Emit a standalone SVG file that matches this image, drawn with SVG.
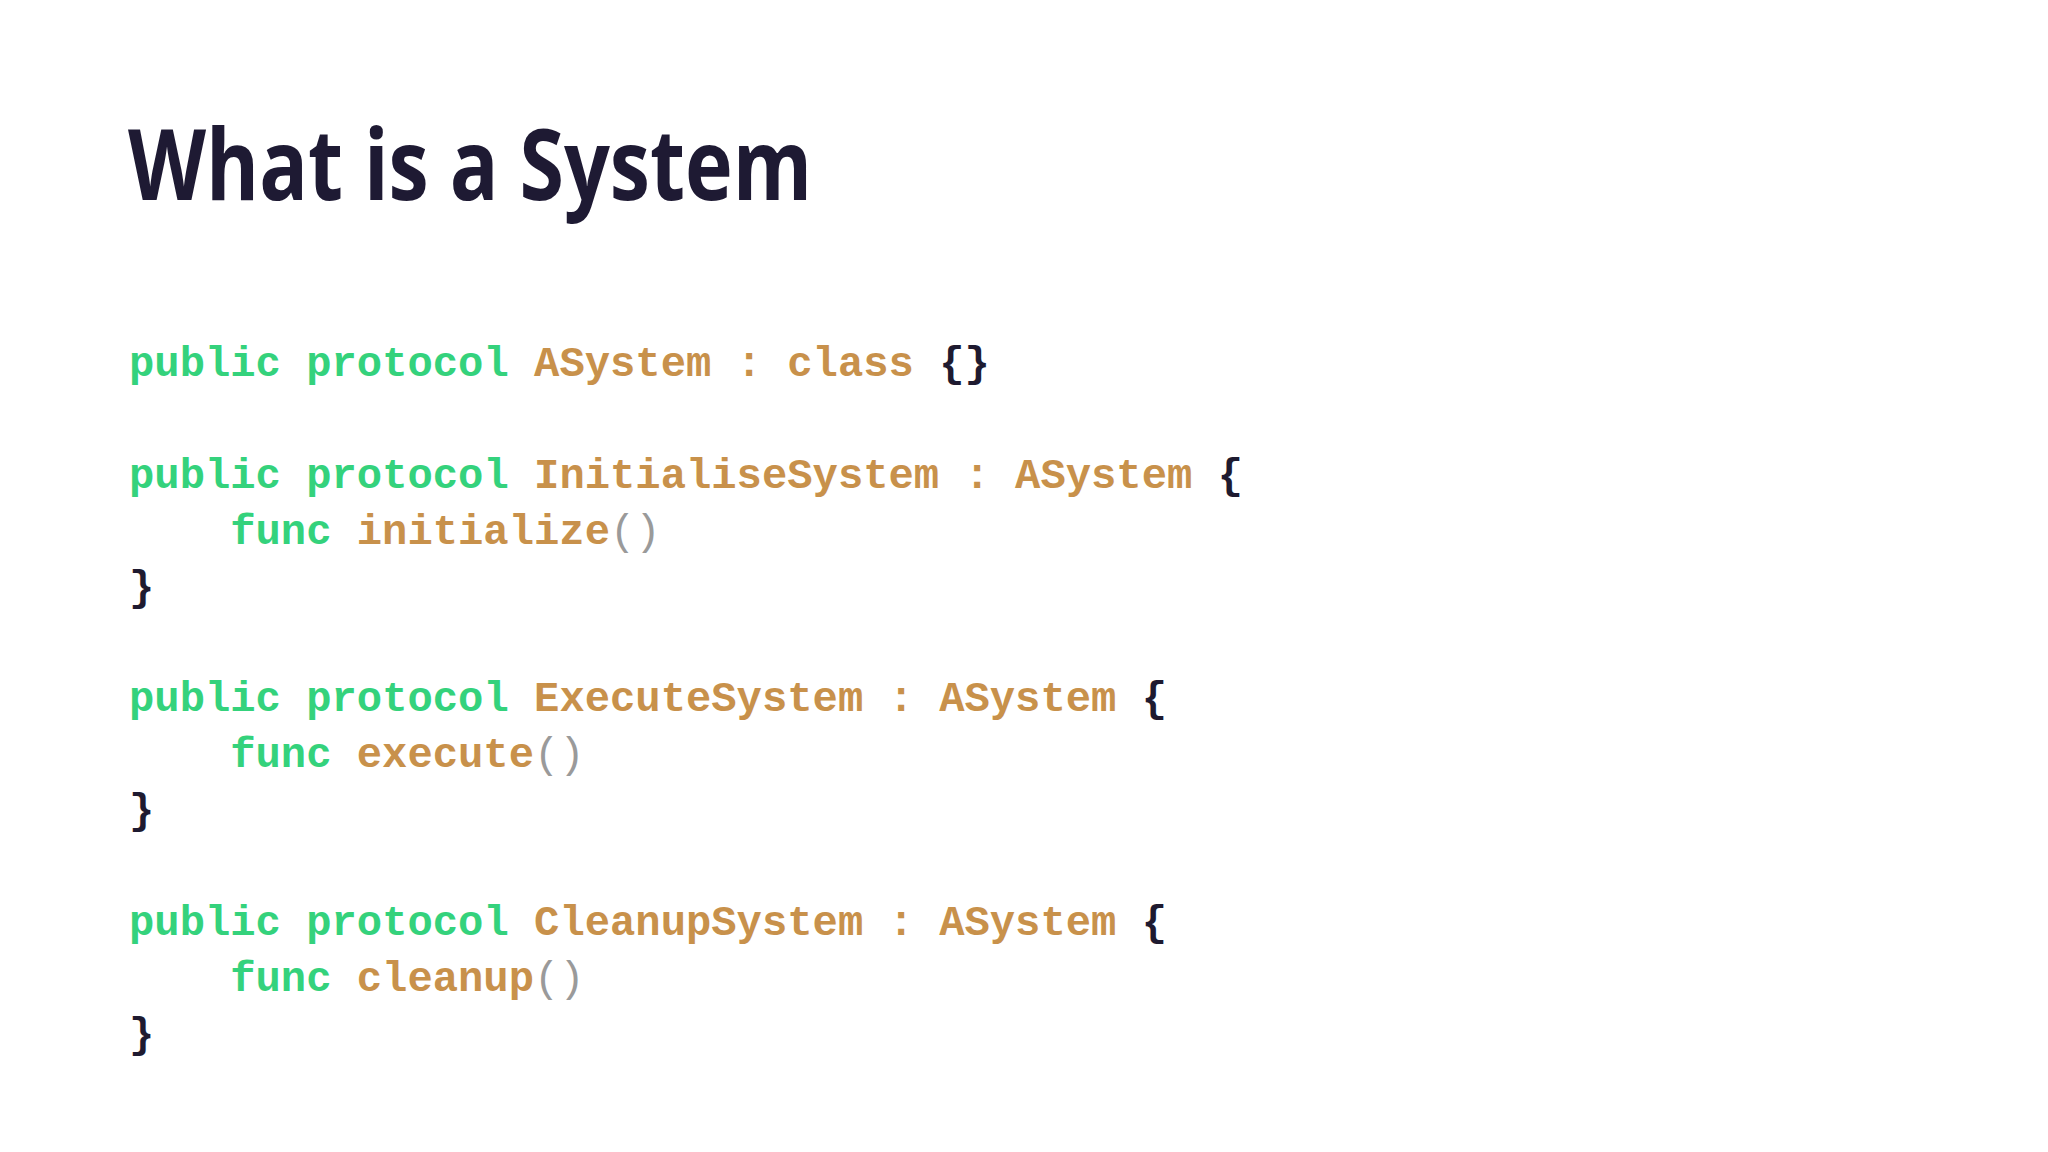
<svg xmlns="http://www.w3.org/2000/svg" width="2048" height="1152" viewBox="0 0 2048 1152">
<style>
.title{font-family:"Open Sans","Liberation Sans",sans-serif;font-weight:700;font-size:98px;fill:#1e1a33}
.code{font-family:"Liberation Mono","DejaVu Sans Mono",monospace;font-weight:700;font-size:42.2px;white-space:pre}
.kw{fill:#34d27c}
.ty{fill:#c8914b}
.pn{fill:#1e1a30}
.pr{fill:#9a9a9a;font-weight:400}
</style>
<rect width="2048" height="1152" fill="#ffffff"/>
<g id="title">
<text class="title" x="128" y="200" textLength="684" lengthAdjust="spacingAndGlyphs">What is a System</text>
</g>
<g id="code" class="code">
<text xml:space="preserve" x="129" y="376"><tspan class="kw">public protocol </tspan><tspan class="ty">ASystem : class </tspan><tspan class="pn">{}</tspan></text>
<text xml:space="preserve" x="129" y="487.8"><tspan class="kw">public protocol </tspan><tspan class="ty">InitialiseSystem : ASystem </tspan><tspan class="pn">{</tspan></text>
<text xml:space="preserve" x="230.2" y="543.7"><tspan class="kw">func </tspan><tspan class="ty">initialize</tspan><tspan class="pr">()</tspan></text>
<text xml:space="preserve" x="129" y="599.6"><tspan class="pn">}</tspan></text>
<text xml:space="preserve" x="129" y="711.4"><tspan class="kw">public protocol </tspan><tspan class="ty">ExecuteSystem : ASystem </tspan><tspan class="pn">{</tspan></text>
<text xml:space="preserve" x="230.2" y="767.3"><tspan class="kw">func </tspan><tspan class="ty">execute</tspan><tspan class="pr">()</tspan></text>
<text xml:space="preserve" x="129" y="823.2"><tspan class="pn">}</tspan></text>
<text xml:space="preserve" x="129" y="935"><tspan class="kw">public protocol </tspan><tspan class="ty">CleanupSystem : ASystem </tspan><tspan class="pn">{</tspan></text>
<text xml:space="preserve" x="230.2" y="990.9"><tspan class="kw">func </tspan><tspan class="ty">cleanup</tspan><tspan class="pr">()</tspan></text>
<text xml:space="preserve" x="129" y="1046.8"><tspan class="pn">}</tspan></text>
</g>
</svg>
